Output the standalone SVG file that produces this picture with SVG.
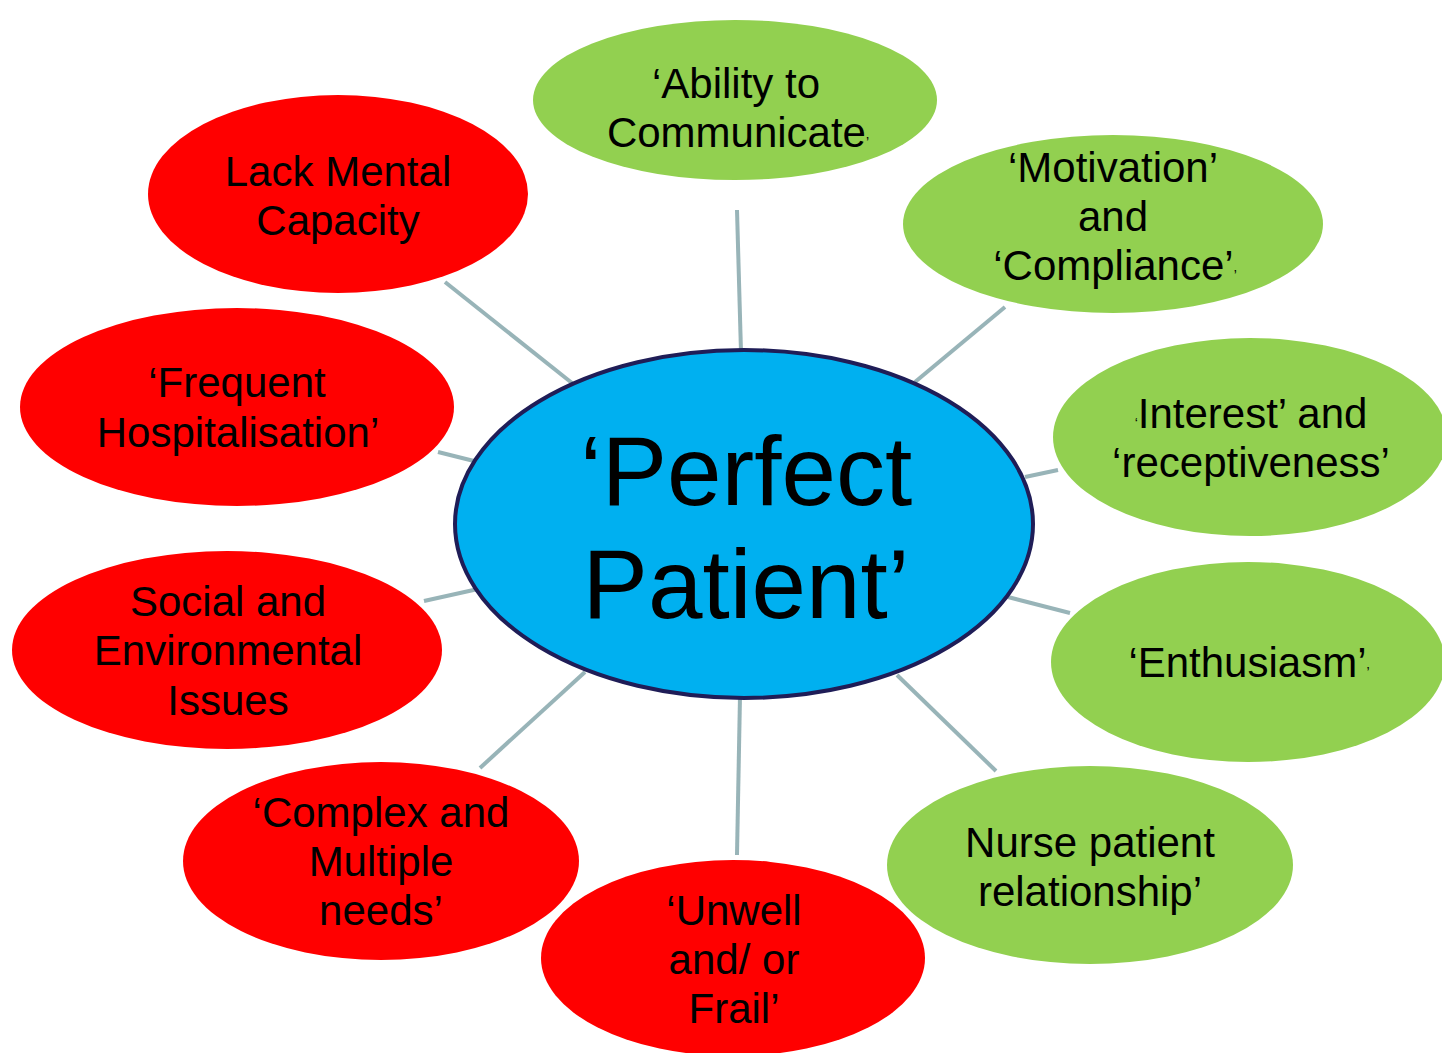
<svg xmlns="http://www.w3.org/2000/svg" width="1442" height="1053" viewBox="0 0 1442 1053">
<style>
.g{fill:#92d050}
.r{fill:#ff0000}
.t{font-family:"Liberation Sans",Arial,sans-serif;font-size:42px;fill:#000;text-anchor:middle}
.s{font-size:14px}
.big{font-family:"Liberation Sans",Arial,sans-serif;font-size:98px;fill:#000;text-anchor:middle}
.c line{stroke:#98b4b8;stroke-width:4}
</style>
<rect width="1442" height="1053" fill="#fff"/>
<g id="connectors" class="c">
<line x1="737" y1="210" x2="741" y2="352"/>
<line x1="1005" y1="307" x2="915" y2="382"/>
<line x1="1058" y1="470" x2="1025" y2="477"/>
<line x1="1070" y1="613" x2="1008" y2="597"/>
<line x1="996" y1="771" x2="897" y2="675"/>
<line x1="740" y1="696" x2="737" y2="855"/>
<line x1="585" y1="672" x2="480" y2="768"/>
<line x1="424" y1="601" x2="478" y2="589"/>
<line x1="438" y1="452" x2="474" y2="461"/>
<line x1="445" y1="282" x2="572" y2="383"/>
</g>
<g id="n-ability"><ellipse class="g" cx="735" cy="100" rx="202" ry="80"/>
<text class="t" x="736" y="98">‘Ability to</text>
<text class="t" x="738" y="147">Communicate<tspan class="s">’</tspan></text></g>
<g id="n-motivation"><ellipse class="g" cx="1113" cy="224" rx="210" ry="89"/>
<text class="t" x="1113" y="182">‘Motivation’</text>
<text class="t" x="1113" y="231">and</text>
<text class="t" x="1115" y="280">‘Compliance’<tspan class="s">’</tspan></text></g>
<g id="n-interest"><ellipse class="g" cx="1250" cy="437" rx="197" ry="99"/>
<text class="t" x="1251" y="428"><tspan class="s">‘</tspan>Interest’ and</text>
<text class="t" x="1251" y="477">‘receptiveness’</text></g>
<g id="n-enthusiasm"><ellipse class="g" cx="1248" cy="662" rx="197" ry="100"/>
<text class="t" x="1249" y="677">‘Enthusiasm’<tspan class="s">’</tspan></text></g>
<g id="n-nurse"><ellipse class="g" cx="1090" cy="865" rx="203" ry="99"/>
<text class="t" x="1090" y="857">Nurse patient</text>
<text class="t" x="1090" y="906">relationship’</text></g>
<g id="n-lack"><ellipse class="r" cx="338" cy="194" rx="190" ry="99"/>
<text class="t" x="338" y="186">Lack Mental</text>
<text class="t" x="338" y="235">Capacity</text></g>
<g id="n-frequent"><ellipse class="r" cx="237" cy="407" rx="217" ry="99"/>
<text class="t" x="237" y="397">‘Frequent</text>
<text class="t" x="238" y="447">Hospitalisation’</text></g>
<g id="n-social"><ellipse class="r" cx="227" cy="650" rx="215" ry="99"/>
<text class="t" x="228" y="616">Social and</text>
<text class="t" x="228" y="665">Environmental</text>
<text class="t" x="228" y="715">Issues</text></g>
<g id="n-complex"><ellipse class="r" cx="381" cy="861" rx="198" ry="99"/>
<text class="t" x="381" y="827">‘Complex and</text>
<text class="t" x="381" y="876">Multiple</text>
<text class="t" x="381" y="925">needs’</text></g>
<g id="n-unwell"><ellipse class="r" cx="733" cy="958" rx="192" ry="98"/>
<text class="t" x="734" y="925">‘Unwell</text>
<text class="t" x="734" y="974">and/ or</text>
<text class="t" x="734" y="1023">Frail’</text></g>
<g id="n-center"><ellipse cx="744" cy="524" rx="289" ry="174" fill="#00b0f0" stroke="#1f1d57" stroke-width="4"/>
<text class="big" x="746" y="505">‘Perfect</text>
<text class="big" x="746" y="618">Patient’</text></g>
</svg>
